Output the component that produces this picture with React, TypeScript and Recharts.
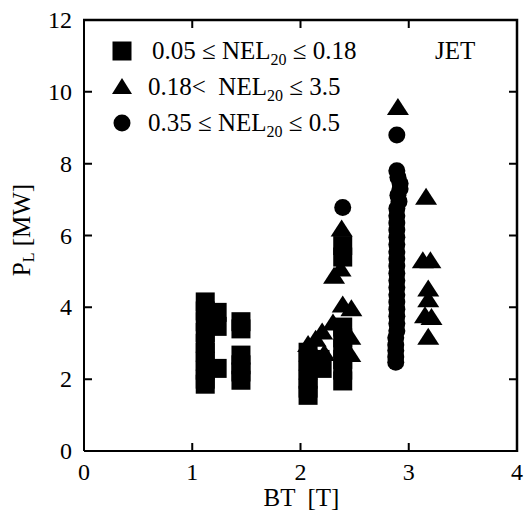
import React from 'react';
import { ScatterChart, Scatter, XAxis, YAxis } from 'recharts';

// [BT (T), PL (MW)]
const squares: [number, number][] = [
  [1.12, 4.15], [1.12, 3.9], [1.12, 3.6], [1.12, 3.3], [1.12, 3.0], [1.12, 2.75],
  [1.12, 2.5], [1.12, 2.25], [1.12, 2.0], [1.12, 1.86],
  [1.23, 3.86], [1.23, 3.47], [1.23, 2.3],
  [1.45, 3.6], [1.45, 3.4], [1.45, 2.67], [1.45, 2.4], [1.45, 2.2], [1.45, 1.97],
  [2.07, 2.75], [2.07, 2.5], [2.07, 2.25], [2.07, 2.0], [2.07, 1.75], [2.07, 1.55],
  [2.2, 2.3], [2.18, 2.55],
  [2.39, 5.72], [2.39, 5.4],
  [2.39, 3.45], [2.39, 3.15], [2.39, 2.85], [2.39, 2.55], [2.39, 2.25], [2.39, 1.95],
];

const triangles: [number, number][] = [
  [2.38, 6.17], [2.31, 4.85], [2.37, 5.05], [2.39, 4.05], [2.47, 3.95], [2.3, 3.55],
  [2.46, 3.15], [2.46, 2.67], [2.2, 3.3], [2.14, 3.1], [2.07, 2.95], [2.22, 2.7],
  [2.9, 9.55],
  [3.16, 7.05], [3.13, 5.28], [3.2, 5.28], [3.18, 4.5], [3.18, 4.2], [3.15, 3.75],
  [3.21, 3.7], [3.18, 3.15],
];

const circles: [number, number][] = [
  [2.39, 6.78], [2.89, 8.8],
  [2.89, 7.8], [2.9, 7.62], [2.92, 7.45], [2.92, 7.3], [2.9, 7.12], [2.91, 6.95],
  [2.89, 6.75], [2.89, 6.55], [2.89, 6.35], [2.89, 6.15], [2.89, 5.95], [2.89, 5.75],
  [2.89, 5.55], [2.89, 5.35], [2.89, 5.15], [2.89, 4.95], [2.89, 4.75], [2.89, 4.55],
  [2.89, 4.35], [2.89, 4.15], [2.89, 3.95], [2.89, 3.75], [2.89, 3.55], [2.89, 3.35],
  [2.88, 3.15], [2.88, 2.95], [2.88, 2.8], [2.88, 2.62], [2.88, 2.47],
];

const xTicks = [0, 1, 2, 3, 4];
const yTicks = [0, 2, 4, 6, 8, 10, 12];

const legendLabels: [string, string][] = [
  ['0.05 ≤ NEL', ' ≤ 0.18'],
  ['0.18<  NEL', ' ≤ 3.5'],
  ['0.35 ≤ NEL', ' ≤ 0.5'],
];

const toPoints = (pairs: [number, number][]) => pairs.map(([bt, pl]) => ({ bt, pl }));

const FONT = '"Liberation Serif", "Times New Roman", serif';
const INK = '#000';
const TICK = 8;

const W = 524;
const H = 517;
const MARGIN = { top: 20, right: 7, bottom: 36, left: 24 };
const X_AXIS_H = 30;
const Y_AXIS_W = 60;
const PLOT_X = MARGIN.left + Y_AXIS_W;
const PLOT_Y = MARGIN.top;
const PLOT_W = W - PLOT_X - MARGIN.right;
const PLOT_H = H - MARGIN.top - MARGIN.bottom - X_AXIS_H;
const X_MAX = xTicks[xTicks.length - 1];
const Y_MAX = yTicks[yTicks.length - 1];

const SquareMark = ({ cx, cy }: any) => (
  <rect x={cx - 9.5} y={cy - 9.5} width={19} height={19} fill={INK} />
);
const TriangleMark = ({ cx, cy }: any) => (
  <polygon points={`${cx},${cy - 10} ${cx + 11},${cy + 7} ${cx - 11},${cy + 7}`} fill={INK} />
);
const CircleMark = ({ cx, cy }: any) => <circle cx={cx} cy={cy} r={8.5} fill={INK} />;

const BottomTick = ({ x, y, payload }: any) => (
  <text x={x} y={y + 29} textAnchor="middle" fontSize={24} fontFamily={FONT} fill={INK}>
    {payload.value}
  </text>
);

const LeftTick = ({ x, y, payload }: any) => (
  <text x={x - 12} y={y + 8} textAnchor="end" fontSize={24} fontFamily={FONT} fill={INK}>
    {payload.value}
  </text>
);

const XTitle = ({ viewBox }: any) => (
  <text
    x={viewBox.x + viewBox.width / 2 + 1}
    y={506}
    textAnchor="middle"
    fontSize={25}
    fontFamily={FONT}
    fill={INK}
    style={{ whiteSpace: 'pre' }}
  >
    BT  [T]
  </text>
);

const YTitle = () => (
  <text
    x={30}
    y={230}
    transform="rotate(-90, 30, 230)"
    textAnchor="middle"
    fontSize={25}
    fontFamily={FONT}
    fill={INK}
  >
    P
    <tspan fontSize={16} dy={4}>L</tspan>
    <tspan dy={-4}> [MW]</tspan>
  </text>
);

const legendMarks = [
  (cx: number, cy: number) => <rect x={cx - 9.5} y={cy - 9.5} width={19} height={19} fill={INK} />,
  (cx: number, cy: number) => (
    <polygon points={`${cx},${cy - 9} ${cx + 10},${cy + 7} ${cx - 10},${cy + 7}`} fill={INK} />
  ),
  (cx: number, cy: number) => <circle cx={cx} cy={cy} r={8.5} fill={INK} />,
];

// one overlay: frame with inward ticks on all four sides, legend and the JET tag
const Overlay = () => {
  const px = (v: number) => PLOT_X + (v / X_MAX) * PLOT_W;
  const py = (v: number) => PLOT_Y + PLOT_H - (v / Y_MAX) * PLOT_H;
  const right = PLOT_X + PLOT_W;
  const bottom = PLOT_Y + PLOT_H;
  return (
    <svg
      width={W}
      height={H}
      style={{ position: 'absolute', left: 0, top: 0, display: 'block', pointerEvents: 'none' }}
    >
      <path
        d={`M${PLOT_X - 1},${PLOT_Y} H${right} V${bottom + 1}`}
        fill="none"
        stroke={INK}
        strokeWidth={2.5}
      />
      {xTicks
        .filter((v) => v > 0 && v < X_MAX)
        .map((v) => (
          <path
            key={`x${v}`}
            d={`M${px(v)},${PLOT_Y} v${TICK} M${px(v)},${bottom} v${-TICK}`}
            stroke={INK}
            strokeWidth={2}
          />
        ))}
      {yTicks
        .filter((v) => v > 0 && v < Y_MAX)
        .map((v) => (
          <path
            key={`y${v}`}
            d={`M${PLOT_X},${py(v)} h${TICK} M${right},${py(v)} h${-TICK}`}
            stroke={INK}
            strokeWidth={2}
          />
        ))}
      {legendLabels.map(([before, after], i) => {
        const cy = 51 + i * 36;
        return (
          <g key={i}>
            {legendMarks[i](122, cy)}
            <text
              x={i === 0 ? 152 : 148}
              y={cy + 8}
              fontSize={25}
              fontFamily={FONT}
              fill={INK}
              style={{ whiteSpace: 'pre' }}
            >
              {before}
              <tspan fontSize={16} dy={6}>20</tspan>
              <tspan dy={-6}>{after}</tspan>
            </text>
          </g>
        );
      })}
      <text x={435} y={59} fontSize={25} fontFamily={FONT} fill={INK}>
        JET
      </text>
    </svg>
  );
};

const App: React.FC = () => {
  const axisLine = { stroke: INK, strokeWidth: 2 };
  return (
    <div style={{ position: 'absolute', left: 0, top: 0, width: W, height: H, background: '#fff' }}>
      <ScatterChart width={W} height={H} margin={MARGIN}>
        <XAxis
          dataKey="bt"
          type="number"
          domain={[0, X_MAX]}
          ticks={xTicks}
          height={X_AXIS_H}
          tickSize={0}
          tickMargin={0}
          tickLine={false}
          axisLine={axisLine}
          tick={BottomTick}
          label={<XTitle />}
          allowDataOverflow
        />
        <YAxis
          dataKey="pl"
          type="number"
          domain={[0, Y_MAX]}
          ticks={yTicks}
          width={Y_AXIS_W}
          tickSize={0}
          tickMargin={0}
          tickLine={false}
          axisLine={axisLine}
          tick={LeftTick}
          label={<YTitle />}
          allowDataOverflow
        />
        <Scatter name="squares" data={toPoints(squares)} shape={SquareMark} isAnimationActive={false} />
        <Scatter name="triangles" data={toPoints(triangles)} shape={TriangleMark} isAnimationActive={false} />
        <Scatter name="circles" data={toPoints(circles)} shape={CircleMark} isAnimationActive={false} />
      </ScatterChart>
      <Overlay />
    </div>
  );
};

export default App;
